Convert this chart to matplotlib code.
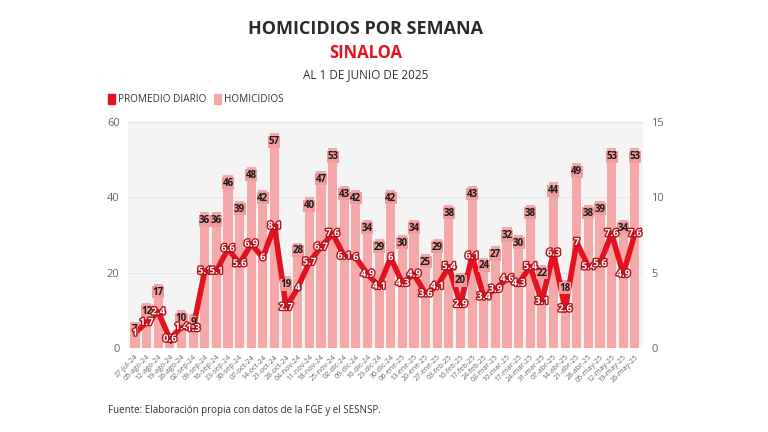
import matplotlib
matplotlib.use("Agg")
import matplotlib.pyplot as plt
import matplotlib.patheffects as pe
import numpy as np

plt.rcParams['font.family'] = ['Open Sans', 'DejaVu Sans']

fechas = ["27-jul-24", "05-ago-24", "12-ago-24", "19-ago-24", "26-ago-24", "02-sep-24",
          "09-sep-24", "16-sep-24", "23-sep-24", "30-sep-24", "07-oct-24", "14-oct-24",
          "21-oct-24", "28-oct-24", "04-nov-24", "11-nov-24", "18-nov-24", "25-nov-24",
          "02-dic-24", "09-dic-24", "16-dic-24", "23-dic-24", "30-dic-24", "06-ene-25",
          "13-ene-25", "20-ene-25", "27-ene-25", "03-feb-25", "10-feb-25", "17-feb-25",
          "24-feb-25", "03-mar-25", "10-mar-25", "17-mar-25", "24-mar-25", "31-mar-25",
          "07-abr-25", "14-abr-25", "21-abr-25", "28-abr-25", "05-may-25", "12-may-25",
          "19-may-25", "26-may-25"]
homicidios = [7, 12, 17, 4, 10, 9, 36, 36, 46, 39, 48, 42, 57, 19, 28, 40, 47, 53,
              43, 42, 34, 29, 42, 30, 34, 25, 29, 38, 20, 43, 24, 27, 32, 30, 38, 22,
              44, 18, 49, 38, 39, 53, 34, 53]
promedio = [1, 1.7, 2.4, 0.6, 1.4, 1.3, 5.1, 5.1, 6.6, 5.6, 6.9, 6, 8.1, 2.7, 4, 5.7,
            6.7, 7.6, 6.1, 6, 4.9, 4.1, 6, 4.3, 4.9, 3.6, 4.1, 5.4, 2.9, 6.1, 3.4, 3.9,
            4.6, 4.3, 5.4, 3.1, 6.3, 2.6, 7, 5.4, 5.6, 7.6, 4.9, 7.6]

BAR = '#f5a8a8'
RED = '#e3121f'

fig = plt.figure(figsize=(7.68, 4.32), dpi=100)
ax = fig.add_axes([128/768, 1-348/432, (643-128)/768, (348-122)/432])
ax.set_facecolor('#f4f4f4')
x = np.arange(len(fechas))
ax.bar(x, homicidios, width=0.78, color=BAR, zorder=2)
ax.set_ylim(0, 60)
ax.set_xlim(-0.6, len(fechas) - 0.3)
ax.set_yticks([0, 20, 40, 60])
ax.grid(axis='y', color='#e6e6e6', linewidth=0.8, zorder=0)
for s in ax.spines.values():
    s.set_visible(False)
ax.tick_params(axis='y', length=0, labelsize=8, labelcolor='#666666', pad=6)
ax.set_xticks(x)
ax.set_xticklabels(fechas, rotation=45, ha='right', rotation_mode='anchor',
                   fontsize=5.2, color='#666666')
ax.tick_params(axis='x', length=0, pad=4)

ax2 = ax.twinx()
ax2.set_ylim(0, 15)
ax2.set_yticks([0, 5, 10, 15])
for s in ax2.spines.values():
    s.set_visible(False)
ax2.tick_params(axis='y', length=0, labelsize=8, labelcolor='#666666', pad=6)
ax2.plot(x, promedio, color=RED, linewidth=4, solid_joinstyle='round',
         solid_capstyle='round', zorder=3)

# bar labels drawn on the top axes so they sit above the line
for xi, v in zip(x, homicidios):
    ax2.annotate(str(v), (xi, v), xycoords=ax.transData, xytext=(0, -2),
                 textcoords='offset points',
                 ha='center', va='top', fontsize=7, fontweight='bold', color='#1a1a1a',
                 zorder=5,
                 bbox=dict(boxstyle='square,pad=0.05', fc='#f29b9b', ec='none'))

for xi, v in zip(x, promedio):
    lbl = ('%g' % v)
    ax2.text(xi, v, lbl, ha='center', va='center', fontsize=7, fontweight='bold',
             color='white', zorder=6,
             path_effects=[pe.withStroke(linewidth=2, foreground='#b01018')])

fig.text(366/768, 1-29/432, 'HOMICIDIOS POR SEMANA', ha='center', va='center',
         fontsize=13, fontweight='bold', color='#2b2b2b')
fig.text(366/768, 1-53/432, 'SINALOA', ha='center', va='center',
         fontsize=12, fontweight='bold', color='#e3121f')
fig.text(366/768, 1-75/432, 'AL 1 DE JUNIO DE 2025', ha='center', va='center',
         fontsize=8.5, color='#333333')

# legend
fig.patches.append(plt.Rectangle((108/768, 1-104/432), 7/768, 10/432,
                                  transform=fig.transFigure, color=RED))
fig.text(118/768, 1-99/432, 'PROMEDIO DIARIO', ha='left', va='center',
         fontsize=7.2, color='#333333')
fig.patches.append(plt.Rectangle((214/768, 1-104/432), 7/768, 10/432,
                                  transform=fig.transFigure, color=BAR))
fig.text(224/768, 1-99/432, 'HOMICIDIOS', ha='left', va='center',
         fontsize=7.2, color='#333333')

fig.text(108/768, 1-410/432, 'Fuente: Elaboración propia con datos de la FGE y el SESNSP.',
         ha='left', va='center', fontsize=7, color='#333333')

fig.savefig('out.png', dpi=100, facecolor='white')
